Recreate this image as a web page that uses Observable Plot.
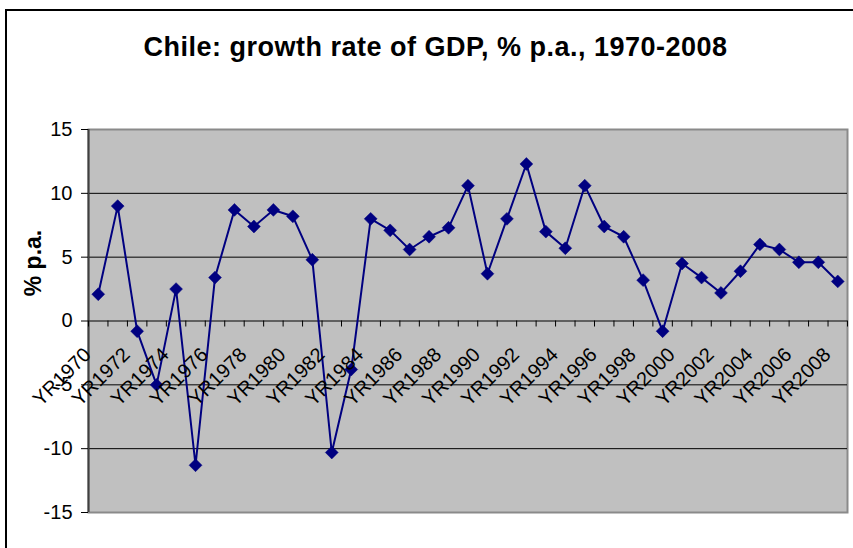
<!DOCTYPE html>
<html>
<head>
<meta charset="utf-8">
<script src="https://cdn.jsdelivr.net/npm/d3@7"></script>
<script src="https://cdn.jsdelivr.net/npm/@observablehq/plot@0.6"></script>
<style>
  html, body { margin: 0; padding: 0; background: #fff; overflow: hidden; }
  #wrap { position: relative; width: 853px; height: 548px; }
  #box { position: absolute; left: 5px; top: 9px; width: 900px; height: 600px; border-left: 2px solid #000; border-top: 2px solid #000; box-sizing: border-box; }
  #title { position: absolute; left: 0; width: 871px; top: 32px; text-align: center; font-family: "Liberation Sans", Arial, sans-serif; font-weight: bold; font-size: 27px; letter-spacing: 0.5px; color: #000; white-space: nowrap; }
  #chart { position: absolute; left: 0; top: 0; }
</style>
</head>
<body>
<div id="wrap">
  <div id="chart"></div>
  <div id="box"></div>
  <div id="title">Chile: growth rate of GDP, % p.a., 1970-2008</div>
</div>
<script>
const years = [1970,1971,1972,1973,1974,1975,1976,1977,1978,1979,1980,1981,1982,1983,1984,1985,1986,1987,1988,1989,1990,1991,1992,1993,1994,1995,1996,1997,1998,1999,2000,2001,2002,2003,2004,2005,2006,2007,2008];
const growth = [2.1,9.0,-0.8,-5.0,2.5,-11.3,3.4,8.7,7.4,8.7,8.2,4.8,-10.3,-3.8,8.0,7.1,5.6,6.6,7.3,10.6,3.7,8.0,12.3,7.0,5.7,10.6,7.4,6.6,3.2,-0.8,4.5,3.4,2.2,3.9,6.0,5.6,4.6,4.6,3.1];
const labelYears = years.filter((y, i) => i % 2 === 0);
const yTicks = [-15, -10, -5, 0, 5, 10, 15];
const gridValues = [-10, -5, 0, 5, 10];
const yLabel = "% p.a.";

const data = years.map((y, i) => ({year: y, value: growth[i]}));
const xDomain = [years[0] - 0.5, years[years.length - 1] + 0.5];
const boundaries = years.map(y => y - 0.5).concat([xDomain[1]]);

const chart = Plot.plot({
  width: 853,
  height: 548,
  marginLeft: 88,
  marginRight: 6,
  marginTop: 129,
  marginBottom: 36,
  x: {domain: xDomain, axis: null},
  y: {domain: [-15, 15], axis: null},
  style: {background: "transparent", fontFamily: "'Liberation Sans', Arial, sans-serif"},
  marks: [
    Plot.frame({fill: "#c0c0c0", stroke: "#8a8a8a", strokeWidth: 2}),
    Plot.ruleY(gridValues, {stroke: "#000", strokeWidth: 1}),
    Plot.ruleX([xDomain[0]], {stroke: "#404040", strokeWidth: 2}),
    Plot.ruleX(boundaries, {y1: 0, y2: -0.47, stroke: "#000", strokeWidth: 1}),
    Plot.axisY(yTicks, {tickSize: 7, tickPadding: 9, fontSize: 20, fill: "#000", stroke: "#000", label: null, tickFormat: d => String(d)}),
    Plot.line(data, {x: "year", y: "value", stroke: "#000080", strokeWidth: 2}),
    Plot.dot(data, {x: "year", y: "value", symbol: "diamond2", r: 5.8, fill: "#000080", stroke: "#000080", strokeWidth: 0.5}),
    Plot.text(labelYears, {x: d => d, y: 0, text: d => "YR" + d, rotate: -45, textAnchor: "end", lineAnchor: "bottom", dx: -6, dy: 35, fontSize: 20, fill: "#000"}),
    Plot.text([yLabel], {frameAnchor: "left", text: d => d, rotate: -90, textAnchor: "middle", dx: -55, dy: -58, fontSize: 23, fontWeight: "bold", fill: "#000"})
  ]
});
document.getElementById("chart").appendChild(chart);
</script>
</body>
</html>
